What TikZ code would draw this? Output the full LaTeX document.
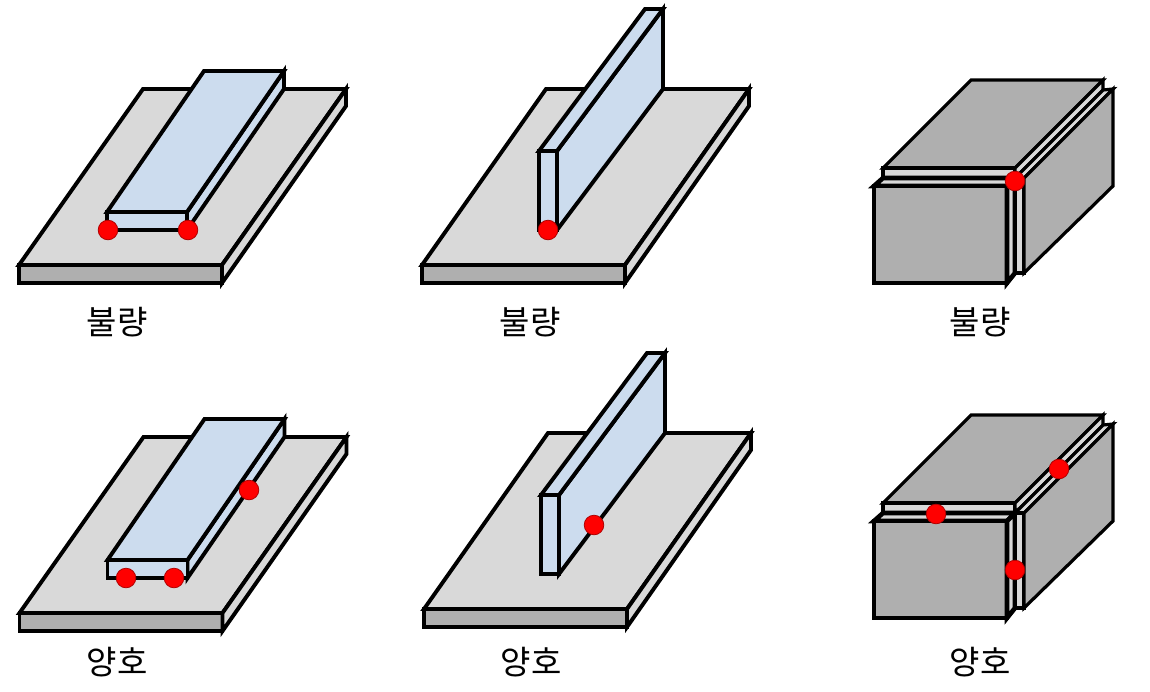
\documentclass[tikz,border=0pt]{standalone}
\usepackage{fontspec}
\newfontfamily\krfont{Noto Sans CJK KR}
\definecolor{cor_light}{HTML}{D9D9D9}
\definecolor{cor_dark}{HTML}{AFAFAF}
\definecolor{cor_bar}{HTML}{CCDCEE}
\definecolor{cor_dot}{HTML}{FF0000}
\definecolor{cor_rim}{HTML}{B00000}

\begin{document}
\begin{tikzpicture}[x=1pt,y=-1pt]
        \tikzset{
            face/.style={
                draw=black,
                fill=#1,
                line width=3.9pt
            },
            blockface/.style={
                face=#1,
                line width=4.6pt
            },
            slimface/.style={
                face=#1,
                line width=3.2pt
            },
            weld/.style={
                draw=cor_rim,
                fill=cor_dot,
                line width=0.8pt
            },
            caption/.style={
                font=\krfont\fontsize{33pt}{33pt}\selectfont,
                inner sep=0pt
            }
        }
        \useasboundingbox (0,0) rectangle (1150,691);

        %flat bar, row 1
        \begin{scope}[shift={(0,0)}]
            \draw[face=cor_light] (143,89) -- (346,89) -- (222,265) -- (19,265) -- cycle;
            \draw[face=cor_dark] (19,265) rectangle (222,283);
            \draw[face=cor_light] (346,89) -- (346,106) -- (222,283) -- (222,265) -- cycle;
            \draw[face=cor_bar] (284,71) -- (284,89) -- (187,230) -- (187,212) -- cycle;
            \draw[face=cor_bar] (107,212) rectangle (187,230);
            \draw[face=cor_bar] (204,71) -- (284,71) -- (187,212) -- (107,212) -- cycle;
        \end{scope}
        \filldraw[weld] (108,230) circle (9.8);
        \filldraw[weld] (188,230) circle (9.8);

        %flat bar, row 2
        \begin{scope}[shift={(0.5,348)}]
            \draw[face=cor_light] (143,89) -- (346,89) -- (222,265) -- (19,265) -- cycle;
            \draw[face=cor_dark] (19,265) rectangle (222,283);
            \draw[face=cor_light] (346,89) -- (346,106) -- (222,283) -- (222,265) -- cycle;
            \draw[face=cor_bar] (284,71) -- (284,89) -- (187,230) -- (187,212) -- cycle;
            \draw[face=cor_bar] (107,212) rectangle (187,230);
            \draw[face=cor_bar] (204,71) -- (284,71) -- (187,212) -- (107,212) -- cycle;
        \end{scope}
        \filldraw[weld] (126,578) circle (9.8);
        \filldraw[weld] (174,578) circle (9.8);
        \filldraw[weld] (249,490) circle (9.8);

        %wall, row 1
        \begin{scope}[shift={(403,0)}]
            \draw[face=cor_light] (143,89) -- (346,89) -- (222,265) -- (19,265) -- cycle;
            \draw[face=cor_dark] (19,265) rectangle (222,283);
            \draw[face=cor_light] (346,89) -- (346,106) -- (222,283) -- (222,265) -- cycle;
        \end{scope}
        \draw[face=cor_bar] (663,9) -- (663,89) -- (557,230) -- (557,151) -- cycle;
        \draw[face=cor_bar] (539,151) rectangle (557,230);
        \draw[face=cor_bar] (645,9) -- (663,9) -- (557,151) -- (539,151) -- cycle;
        \filldraw[weld] (548,230) circle (9.8);

        %wall, row 2
        \begin{scope}[shift={(405,344)}]
            \draw[face=cor_light] (143,89) -- (346,89) -- (222,265) -- (19,265) -- cycle;
            \draw[face=cor_dark] (19,265) rectangle (222,283);
            \draw[face=cor_light] (346,89) -- (346,106) -- (222,283) -- (222,265) -- cycle;
        \end{scope}
        \draw[face=cor_bar] (665,353) -- (665,433) -- (559,574) -- (559,495) -- cycle;
        \draw[face=cor_bar] (541,495) rectangle (559,574);
        \draw[face=cor_bar] (647,353) -- (665,353) -- (559,495) -- (541,495) -- cycle;
        \filldraw[weld] (594,525) circle (9.8);

        %block, row 1
        \begin{scope}[shift={(0,0)}]
            \draw[slimface=cor_dark] (971,80) -- (1103,80) -- (1015,168) -- (883,168) -- cycle;
            \draw[blockface=cor_light] (883,168) rectangle (1015,178);
            \draw[slimface=cor_light] (1015,168) -- (1103,80) -- (1103,90) -- (1015,178) -- cycle;
            \draw[blockface=cor_light] (883,178) -- (1015,178) -- (1007,186) -- (874,186) -- cycle;
            \draw[slimface=cor_light] (1015,178) -- (1103,90) -- (1113,89) -- (1024,178) -- cycle;
            \draw[blockface=cor_dark] (874,186) rectangle (1007,283);
            \draw[blockface=cor_light] (1007,186) -- (1015,178) -- (1015,273) -- (1007,283) -- cycle;
            \draw[blockface=cor_light] (1015,178) rectangle (1024,273);
            \draw[slimface=cor_dark] (1024,178) -- (1113,89) -- (1113,186) -- (1024,273) -- cycle;
        \end{scope}
        \filldraw[weld] (1015,181) circle (9.8);

        %block, row 2
        \begin{scope}[shift={(0,335)}]
            \draw[slimface=cor_dark] (971,80) -- (1103,80) -- (1015,168) -- (883,168) -- cycle;
            \draw[blockface=cor_light] (883,168) rectangle (1015,178);
            \draw[slimface=cor_light] (1015,168) -- (1103,80) -- (1103,90) -- (1015,178) -- cycle;
            \draw[blockface=cor_light] (883,178) -- (1015,178) -- (1007,186) -- (874,186) -- cycle;
            \draw[slimface=cor_light] (1015,178) -- (1103,90) -- (1113,89) -- (1024,178) -- cycle;
            \draw[blockface=cor_dark] (874,186) rectangle (1007,283);
            \draw[blockface=cor_light] (1007,186) -- (1015,178) -- (1015,273) -- (1007,283) -- cycle;
            \draw[blockface=cor_light] (1015,178) rectangle (1024,273);
            \draw[slimface=cor_dark] (1024,178) -- (1113,89) -- (1113,186) -- (1024,273) -- cycle;
        \end{scope}
        \filldraw[weld] (936,514) circle (9.8);
        \filldraw[weld] (1059,469) circle (9.8);
        \filldraw[weld] (1015,570) circle (9.8);

        %labels
        \node[caption] (badbar) at (117,322) {불량};
        \node[caption] (badwall) at (530,322) {불량};
        \node[caption] (badblock) at (980,322) {불량};
        \node[caption] (goodbar) at (117,662) {양호};
        \node[caption] (goodwall) at (531,662) {양호};
        \node[caption] (goodblock) at (980,662) {양호};

    \end{tikzpicture}
\end{document}
